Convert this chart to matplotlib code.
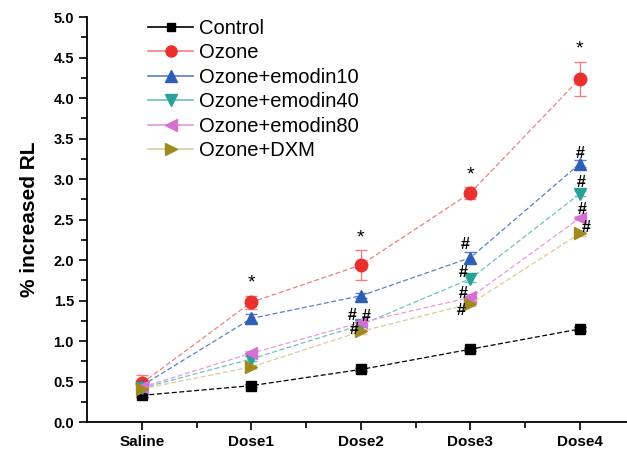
import numpy as np
import matplotlib
matplotlib.use('Agg')
import matplotlib.pyplot as plt
from matplotlib.ticker import MultipleLocator, FormatStrFormatter
from matplotlib.lines import Line2D

plt.rcParams['font.family'] = ['Liberation Sans', 'DejaVu Sans']

# Data
groups = ['Saline', 'Dose1', 'Dose2', 'Dose3', 'Dose4']
series_names = ['Control', 'Ozone', 'Ozone+emodin10', 'Ozone+emodin40',
                'Ozone+emodin80', 'Ozone+DXM']
control = [0.33, 0.45, 0.65, 0.90, 1.15]
ozone = [0.48, 1.48, 1.94, 2.83, 4.24]
emodin10 = [0.45, 1.28, 1.56, 2.03, 3.19]
emodin40 = [0.42, 0.78, 1.20, 1.77, 2.82]
emodin80 = [0.43, 0.85, 1.23, 1.54, 2.52]
dxm = [0.41, 0.68, 1.12, 1.46, 2.33]

control_err = [0.02, 0.02, 0.02, 0.02, 0.02]
ozone_err = [0.10, 0.08, 0.18, 0.07, 0.21]
emodin10_err = [0.04, 0.05, 0.03, 0.07, 0.04]
emodin40_err = [0.03, 0.03, 0.03, 0.04, 0.03]
emodin80_err = [0.03, 0.03, 0.03, 0.04, 0.03]
dxm_err = [0.03, 0.03, 0.03, 0.03, 0.03]

# '#' significance marks (group position, y value)
hash_x = [1.92, 2.05, 1.94, 2.95, 2.93, 2.93, 2.92, 4.0, 4.01, 4.02, 4.06]
hash_y = [1.32, 1.30, 1.14, 2.19, 1.85, 1.59, 1.38, 3.32, 2.96, 2.62, 2.40]

values = [control, ozone, emodin10, emodin40, emodin80, dxm]
errors = [control_err, ozone_err, emodin10_err, emodin40_err, emodin80_err, dxm_err]
colors = ['#000000', '#e8312f', '#2e5fb5', '#2aa198', '#d86fd3', '#a08a20']
line_colors = ['#000000', '#f08080', '#5a80c8', '#6cc4bc', '#e59ae0', '#d8cc98']
markers = ['s', 'o', '^', 'v', '<', '>']
msizes = [7, 9, 9, 9, 9, 9]

x = np.arange(len(groups))

fig = plt.figure(figsize=(6.27, 4.5), dpi=100)
ax = fig.add_axes([0.139, 0.062, 0.861, 0.9])

handles = []
for name, y, e, c, lc, m, ms in zip(series_names, values, errors, colors,
                                      line_colors, markers, msizes):
    ax.errorbar(x, y, yerr=e, color=lc, ecolor=lc, lw=0.9, ls=(0, (4, 2)),
                marker=m, markersize=ms, markerfacecolor=c, markeredgecolor=c,
                capsize=4, elinewidth=1)
    handles.append(Line2D([], [], color=lc, lw=1.2, marker=m, markersize=ms - 1,
                          markerfacecolor=c, markeredgecolor=c, label=name))

# significance marks
for i in range(1, 5):
    ax.text(x[i], ozone[i] + ozone_err[i] + 0.05, '*', ha='center', va='bottom',
            fontsize=14)
for hx, hy in zip(hash_x, hash_y):
    ax.text(hx, hy, '#', ha='center', va='center', fontsize=11.5, fontweight='bold')

ax.set_xlim(-0.5, 4.43)
ax.set_ylim(0, 5.0)
ax.set_xticks(x)
ax.set_xticklabels(groups, fontweight='bold', fontsize=11)
ax.set_xticks(x[:-1] + 0.5, minor=True)
ax.yaxis.set_major_locator(MultipleLocator(0.5))
ax.yaxis.set_minor_locator(MultipleLocator(0.25))
ax.yaxis.set_major_formatter(FormatStrFormatter('%.1f'))
for lbl in ax.get_yticklabels():
    lbl.set_fontweight('bold')
    lbl.set_fontsize(10.5)
ax.tick_params(axis='both', which='major', length=6, width=1.2)
ax.tick_params(axis='both', which='minor', length=4, width=1.2)
ax.spines['top'].set_visible(False)
ax.spines['right'].set_visible(False)
ax.spines['left'].set_linewidth(1.3)
ax.spines['bottom'].set_linewidth(1.3)
ax.set_ylabel('% increased RL', fontsize=15, fontweight='bold', labelpad=10)

ax.legend(handles=handles, loc='upper left', bbox_to_anchor=(0.08, 1.04),
          frameon=False, fontsize=14.5, handlelength=2.2, labelspacing=0.27,
          handletextpad=0.3)

fig.savefig('out.png', dpi=100, facecolor='white')
